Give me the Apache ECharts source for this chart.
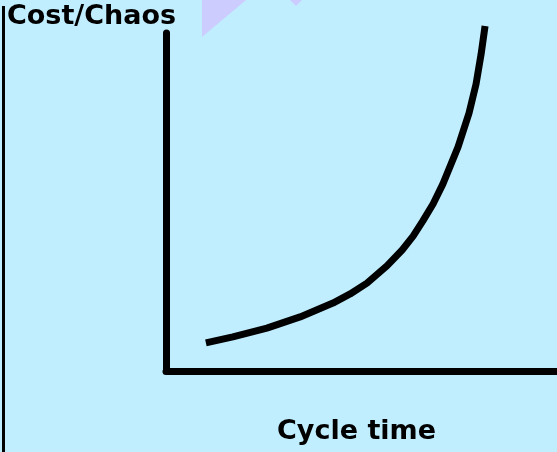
<!DOCTYPE html>
<html>
<head>
<meta charset="utf-8">
<script src="https://cdn.jsdelivr.net/npm/echarts@6/dist/echarts.min.js"></script>
<style>html,body{margin:0;padding:0;background:#C1EEFE;}#c{width:557px;height:452px;}</style>
</head>
<body>
<div id="c"></div>
<script>
// Abstract units (x: cycle time 0-10, y: cost/chaos 0-10)
const cycleTime = [1.02, 1.71, 2.58, 3.43, 4.27, 4.71, 5.14, 5.65, 6.04, 6.32, 6.57, 6.83, 7.08, 7.47, 7.75, 7.93, 8.06, 8.16];
const costChaos = [0.83, 1.01, 1.27, 1.60, 2.01, 2.28, 2.60, 3.11, 3.58, 3.99, 4.44, 4.94, 5.53, 6.63, 7.63, 8.49, 9.38, 10.21];
const titleText = 'Cost/Chaos';
const xAxisName = 'Cycle time';

const chart = echarts.init(document.getElementById('c'));
chart.setOption({
  backgroundColor: '#C1EEFE',
  animation: false,
  title: {
    text: titleText, left: 7, top: 3, padding: 0,
    textStyle: { fontFamily: 'DejaVu Sans', fontWeight: 'bold', fontSize: 27, color: '#000' }
  },
  graphic: [
    { type: 'polygon', shape: { points: [[202,0],[202,37],[246,0]] }, style: { fill: '#CCCCFF' } },
    { type: 'polygon', shape: { points: [[290,0],[296,6],[302,0]] }, style: { fill: '#CCCCFF' } },
    { type: 'line', shape: { x1: 3.5, y1: 6, x2: 3.5, y2: 452 }, style: { stroke: '#000', lineWidth: 3 } }
  ],
  grid: { left: 166, right: 0, top: 33, bottom: 81, outerBoundsMode: 'none', containLabel: false },
  xAxis: {
    type: 'value', min: 0, max: 10,
    name: xAxisName, nameLocation: 'middle', nameGap: 47,
    nameTextStyle: { fontFamily: 'DejaVu Sans', fontWeight: 'bold', fontSize: 27, color: '#000', padding: [0, 10, 0, 0] },
    axisLine: { show: true, lineStyle: { color: '#000', width: 7 } },
    axisTick: { show: false }, axisLabel: { show: false }, splitLine: { show: false }
  },
  yAxis: {
    type: 'value', min: 0, max: 10,
    axisLine: { show: true, lineStyle: { color: '#000', width: 7 } },
    axisTick: { show: false }, axisLabel: { show: false }, splitLine: { show: false }
  },
  series: [{
    type: 'line', smooth: false, showSymbol: false, clip: false,
    data: cycleTime.map((x, i) => [x, costChaos[i]]),
    lineStyle: { color: '#000', width: 7, cap: 'butt', join: 'round' }
  }]
});
</script>
</body>
</html>
